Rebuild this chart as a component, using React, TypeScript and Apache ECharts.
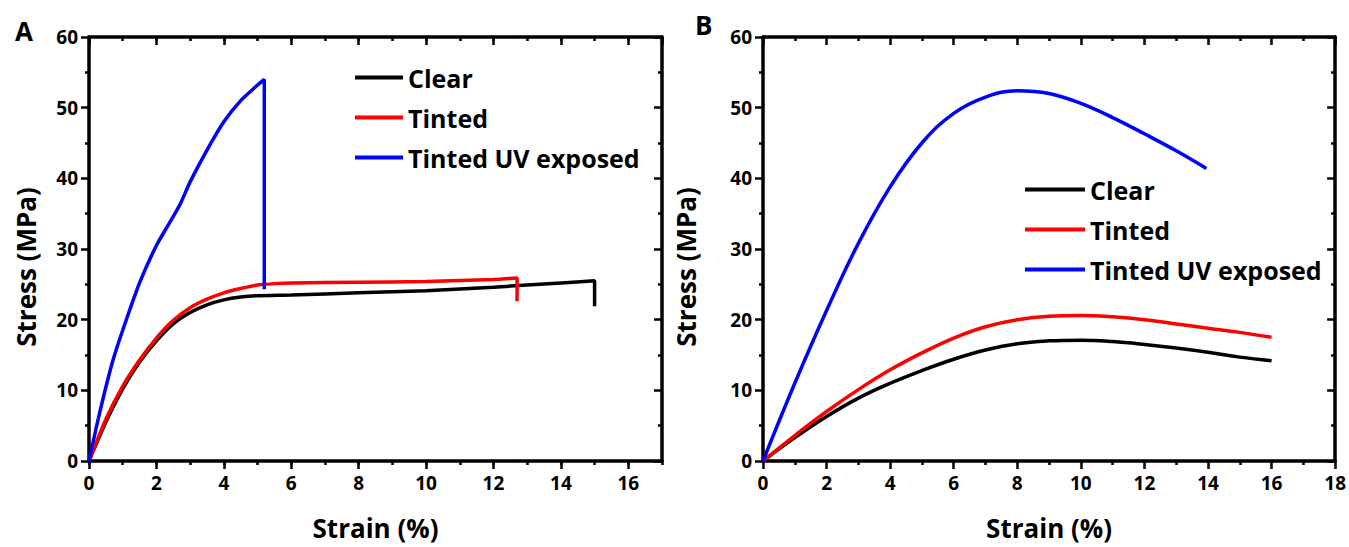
import React, { useEffect, useRef } from "react";
import * as echarts from "echarts";

const FONT = "'Open Sans', 'Noto Sans', sans-serif";
const seriesNames = ["Clear", "Tinted", "Tinted UV exposed"];
const seriesColors = ["#000000", "#ff0000", "#0000ff"];

// Panel A (strain %, stress MPa)
const clearA: number[][] = [
  [0, 0], [0.5, 5.5], [1.0, 10.2], [1.5, 14.0], [2.0, 17.0], [2.5, 19.4], [3.0, 21.0],
  [3.5, 22.1], [4.0, 22.8], [4.5, 23.2], [5.0, 23.4], [6.0, 23.5], [8.0, 23.8], [10.0, 24.1],
  [12.0, 24.6], [13.0, 24.9], [14.0, 25.2], [15.0, 25.5], [15.0, 21.9],
];
const tintedA: number[][] = [
  [0, 0], [0.5, 5.9], [1.0, 10.6], [1.5, 14.3], [2.0, 17.4], [2.5, 19.9], [3.0, 21.7],
  [3.5, 22.9], [4.0, 23.8], [4.5, 24.4], [5.0, 24.9], [5.5, 25.1], [6.0, 25.2], [8.0, 25.3],
  [10.0, 25.4], [12.0, 25.7], [12.7, 25.9], [12.7, 22.6],
];
const uvA: number[][] = [
  [0, 0], [0.3, 6.5], [0.69, 13.9], [1.0, 18.5], [1.5, 25.2], [2.0, 30.5], [2.4, 33.8],
  [2.7, 36.3], [3.0, 39.5], [3.5, 44.0], [4.0, 48.0], [4.5, 51.0], [5.0, 53.2], [5.2, 54.0],
  [5.2, 24.3],
];

// Panel B
const clearB: number[][] = [
  [0, 0], [1, 3.3], [2, 6.3], [3, 8.9], [4, 11.0], [5, 12.8], [6, 14.4], [7, 15.7], [8, 16.6],
  [9, 17.0], [10, 17.1], [11, 16.9], [12, 16.5], [13, 16.0], [14, 15.4], [15, 14.7], [16, 14.2],
];
const tintedB: number[][] = [
  [0, 0], [1, 3.6], [2, 7.0], [3, 10.1], [4, 12.9], [5, 15.3], [6, 17.4], [7, 19.0], [8, 20.0],
  [9, 20.5], [10, 20.6], [11, 20.4], [12, 20.0], [13, 19.4], [14, 18.8], [15, 18.2], [16, 17.5],
];
const uvB: number[][] = [
  [0, 0], [1, 11.0], [2, 21.3], [3, 30.8], [4, 38.8], [5, 45.0], [6, 49.2], [7, 51.5], [8, 52.4],
  [9, 52.0], [10, 50.6], [11, 48.6], [12, 46.3], [13, 43.9], [13.95, 41.4],
];

const xTicksA = { min: 0, max: 17, interval: 2 };
const xTicksB = { min: 0, max: 18, interval: 2 };
const yTicks = { min: 0, max: 60, interval: 10 };

export default function App() {
  const ref = useRef<HTMLDivElement>(null);
  useEffect(() => {
    if (!ref.current) return;
    const chart = echarts.init(ref.current, null, { renderer: "svg" });
    const lineStyle = { color: "#000", width: 3.5 };
    const tickStyle = { color: "#000", width: 2.5 };
    const labelStyle = { fontFamily: FONT, fontWeight: "bold", fontSize: 19, color: "#000" };
    const nameStyle = { fontFamily: FONT, fontWeight: "bold", fontSize: 26, color: "#000" };

    const bottomX = (grid: number, t: any, showMax: boolean) => ({
      gridIndex: grid, type: "value", position: "bottom", ...t,
      axisLine: { show: true, onZero: false, lineStyle },
      axisTick: { show: true, inside: false, length: 8, lineStyle: tickStyle },
      minorTick: { show: showMax, splitNumber: 2, length: 4, lineStyle: tickStyle },
      axisLabel: { ...labelStyle, margin: 12, showMaxLabel: showMax },
      splitLine: { show: false },
      name: "Strain (%)", nameLocation: "middle", nameGap: 54, nameTextStyle: nameStyle,
    });
    const topX = (grid: number, t: any, minor: boolean) => ({
      gridIndex: grid, type: "value", position: "top", ...t,
      axisLine: { show: true, onZero: false, lineStyle },
      axisTick: { show: true, inside: true, length: 8, lineStyle: tickStyle },
      minorTick: { show: minor, splitNumber: 2, length: 4, lineStyle: tickStyle },
      axisLabel: { show: false }, splitLine: { show: false },
    });
    const minorX = (grid: number, pos: string) => ({
      gridIndex: grid, type: "value", position: pos, min: 0, max: 17, interval: 1,
      axisLine: { show: false, onZero: false },
      axisTick: { show: true, inside: pos === "top", length: 4, lineStyle: tickStyle },
      axisLabel: { show: false }, splitLine: { show: false },
    });
    const leftY = (grid: number, gap: number) => ({
      gridIndex: grid, type: "value", position: "left", ...yTicks,
      axisLine: { show: true, onZero: false, lineStyle },
      axisTick: { show: true, inside: false, length: 8, lineStyle: tickStyle },
      minorTick: { show: true, splitNumber: 2, length: 4, lineStyle: tickStyle },
      axisLabel: { ...labelStyle, margin: 11 },
      splitLine: { show: false },
      name: "Stress (MPa)", nameLocation: "middle", nameGap: gap,
      nameTextStyle: { ...nameStyle, padding: [0, 36, 0, 0] },
    });
    const rightY = (grid: number) => ({
      gridIndex: grid, type: "value", position: "right", ...yTicks,
      axisLine: { show: true, onZero: false, lineStyle },
      axisTick: { show: true, inside: true, length: 8, lineStyle: tickStyle },
      minorTick: { show: true, splitNumber: 2, length: 4, lineStyle: tickStyle },
      axisLabel: { show: false }, splitLine: { show: false },
    });

    const mk = (name: string, data: number[][], color: string, xi: number, yi: number, smooth: number) => ({
      name, type: "line", data, xAxisIndex: xi, yAxisIndex: yi, showSymbol: false, symbol: "none",
      smooth, lineStyle: { color, width: 3.5 }, itemStyle: { color }, z: 3,
    });

    const legendCommon = {
      orient: "vertical", icon: "rect", itemHeight: 4, selectedMode: false, itemGap: 15,
      textStyle: { fontFamily: FONT, fontWeight: "bold", fontSize: 25, color: "#000" },
      data: seriesNames,
    };

    chart.setOption({
      animation: false,
      backgroundColor: "#fff",
      title: [
        { text: "A", left: 10, top: 13, textStyle: { fontFamily: FONT, fontWeight: "bold", fontSize: 26, color: "#000" } },
        { text: "B", left: 690, top: 7, textStyle: { fontFamily: FONT, fontWeight: "bold", fontSize: 26, color: "#000" } },
      ],
      legend: [
        { ...legendCommon, left: 350, top: 60, itemWidth: 48 },
        { ...legendCommon, left: 1020, top: 172, itemWidth: 60 },
      ],
      grid: [
        { left: 89, top: 37, width: 573, height: 424 },
        { left: 763, top: 37, width: 576, height: 424 },
      ],
      xAxis: [
        bottomX(0, xTicksA, false),
        topX(0, xTicksA, false),
        minorX(0, "bottom"),
        minorX(0, "top"),
        bottomX(1, xTicksB, true),
        topX(1, xTicksB, true),
      ],
      yAxis: [leftY(0, 50), rightY(0), leftY(1, 64), rightY(1)],
      series: [
        mk(seriesNames[0], clearA, seriesColors[0], 0, 0, 0.2),
        mk(seriesNames[1], tintedA, seriesColors[1], 0, 0, 0.2),
        mk(seriesNames[2], uvA, seriesColors[2], 0, 0, 0.2),
        mk(seriesNames[0], clearB, seriesColors[0], 4, 2, 0.4),
        mk(seriesNames[1], tintedB, seriesColors[1], 4, 2, 0.4),
        mk(seriesNames[2], uvB, seriesColors[2], 4, 2, 0.4),
      ],
    });
    return () => chart.dispose();
  }, []);
  return (
    <div
      ref={ref}
      style={{ position: "fixed", left: 0, top: 0, width: 1349, height: 547, background: "#fff" }}
    />
  );
}
